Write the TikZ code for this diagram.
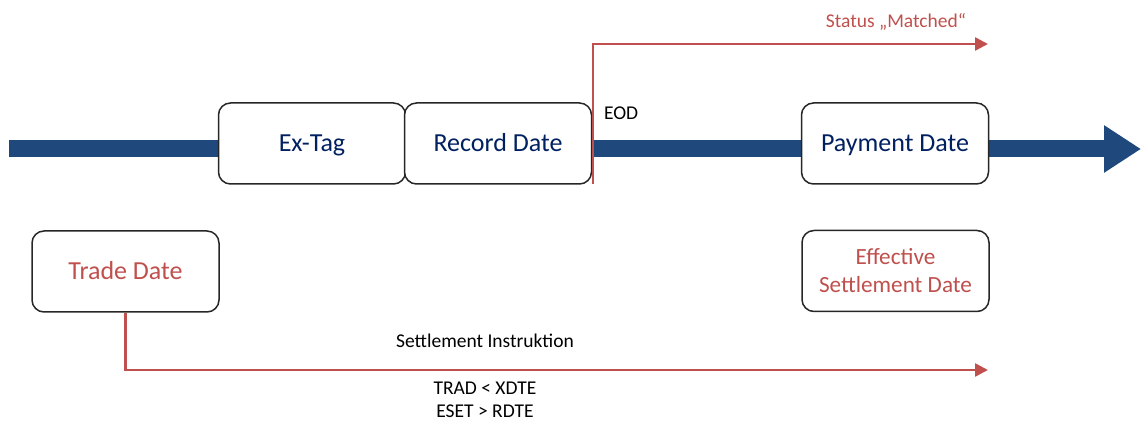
\documentclass[tikz,border=0pt]{standalone}
\usepackage{fontspec}
\setmainfont{Carlito}
\usetikzlibrary{arrows.meta}

\definecolor{timeblue}{RGB}{31,73,125}
\definecolor{datenavy}{RGB}{0,32,96}
\definecolor{flowred}{RGB}{192,80,77}

\begin{document}
\begin{tikzpicture}[x=0.5pt,y=-0.5pt,
        datebox/.style={draw=black!85,line width=0.75pt,fill=white,rounded corners=6pt,
            minimum width=93.5pt,minimum height=40.5pt,inner sep=0pt,align=center,
            font=\fontsize{13}{14}\selectfont},
        oneline/.style={text height=8.4pt,text depth=0pt},
        flow/.style={draw=flowred,line width=1.25pt,-{Triangle[length=6.5pt,width=6.5pt]}},
        note/.style={font=\fontsize{9.75}{11.5}\selectfont,align=center}]
        \useasboundingbox (0,0) rectangle (1142,421);

        % timeline
        \coordinate (tl-start) at (9,149);
        \coordinate (tl-end) at (1141,149);
        \draw[timeblue,line width=8.5pt,-{Triangle[length=18.5pt,width=22.5pt]}] (tl-start) -- (tl-end);

        % dates on the timeline
        \node[datebox,oneline,text=datenavy] (extag) at (312,143.5) {Ex-Tag};
        \node[datebox,oneline,text=datenavy] (record) at (498,143.5) {Record Date};
        \node[datebox,oneline,text=datenavy] (payment) at (895,143.5) {Payment Date};

        % dates below
        \node[datebox,oneline,text=flowred] (trade) at (125.5,271.5) {Trade Date};
        \node[datebox,text=flowred,font=\fontsize{11.6}{14}\selectfont] (effset) at (895.5,271) {Effective\\Settlement Date};

        % matching after end of day
        \coordinate (eod) at (593,184);
        \coordinate (matched) at (988,44);
        \draw[flow] (eod) |- (matched);
        \node[note,text=flowred] (status) at (896,22) {Status „Matched“};
        \node[note,anchor=west] (eodlabel) at (597,113) {EOD};

        % settlement instruction
        \coordinate (instr) at (988,370);
        \draw[flow] (trade.south) |- (instr);
        \node[note] (instrlabel) at (485,341) {Settlement Instruktion};
        \node[note] (rules) at (485,399.5) {TRAD < XDTE\\ESET > RDTE};
\end{tikzpicture}
\end{document}
